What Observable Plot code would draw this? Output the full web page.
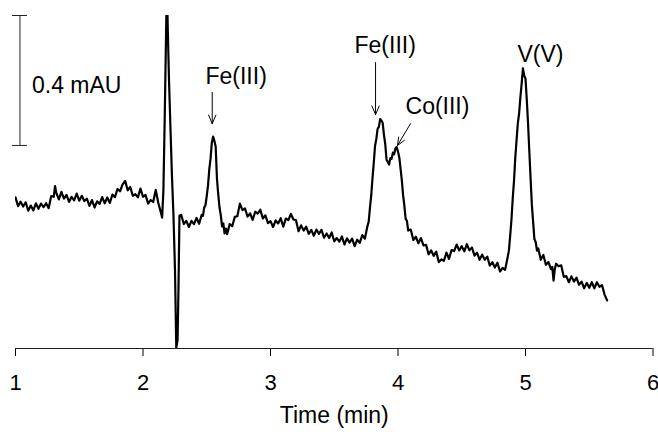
<!DOCTYPE html>
<html>
<head>
<meta charset="utf-8">
<script src="https://cdn.jsdelivr.net/npm/d3@7"></script>
<script src="https://cdn.jsdelivr.net/npm/@observablehq/plot@0.6"></script>
<style>
  html, body { margin: 0; padding: 0; background: #fff; }
</style>
</head>
<body>
<div id="chart"></div>
<script>
// Retention time (min) of each sample of the electropherogram
const time = [
  1.00,1.02,1.04,1.06,1.08,1.10,1.12,1.14,1.16,1.18,1.20,1.22,1.24,1.26,1.28,1.30,1.31,1.32,1.34,1.36,
  1.38,1.40,1.42,1.44,1.46,1.48,1.50,1.52,1.54,1.56,1.58,1.60,1.62,1.64,1.66,1.68,1.70,1.72,1.74,1.76,
  1.78,1.80,1.82,1.84,1.86,1.88,1.90,1.92,1.94,1.96,1.98,2.00,2.02,2.04,2.06,2.08,2.10,2.12,2.14,2.15,
  2.160,2.170,2.180,2.187,2.194,2.204,2.216,2.227,2.239,2.251,2.261,2.271,2.278,2.286,
  2.30,2.32,2.34,2.36,2.38,2.40,2.42,2.44,2.46,2.47,2.48,2.49,2.50,2.51,2.52,2.53,2.54,2.55,2.56,2.57,
  2.58,2.59,2.60,2.61,2.62,2.63,2.64,2.65,2.66,2.68,2.70,2.72,2.74,2.76,2.78,2.80,2.82,2.84,2.86,2.88,
  2.90,2.92,2.94,2.96,2.98,3.00,3.02,3.04,3.06,3.08,3.10,3.12,3.14,3.16,3.18,3.20,3.22,3.24,3.26,3.28,
  3.30,3.32,3.34,3.36,3.38,3.40,3.42,3.44,3.46,3.48,3.50,3.52,3.54,3.56,3.58,3.60,3.62,3.64,3.66,3.68,
  3.70,3.72,3.74,3.76,3.77,3.78,3.79,3.80,3.81,3.82,3.83,3.84,3.85,3.86,3.87,3.88,3.89,3.90,3.91,3.92,
  3.93,3.94,3.95,3.96,3.97,3.98,3.99,4.00,4.01,4.02,4.03,4.04,4.05,4.06,4.07,4.08,4.10,4.12,4.14,4.16,
  4.18,4.20,4.22,4.24,4.26,4.28,4.30,4.32,4.34,4.36,4.38,4.40,4.42,4.44,4.46,4.48,4.50,4.52,4.54,4.56,
  4.58,4.60,4.62,4.64,4.66,4.68,4.70,4.72,4.74,4.76,4.78,4.80,4.82,4.84,4.86,4.87,4.88,4.89,4.90,4.91,
  4.92,4.93,4.94,4.95,4.96,4.97,4.98,4.99,5.00,5.01,5.02,5.03,5.04,5.05,5.06,5.07,5.08,5.09,5.10,5.12,
  5.14,5.16,5.18,5.20,5.21,5.22,5.23,5.24,5.26,5.28,5.30,5.32,5.34,5.36,5.38,5.40,5.42,5.44,5.46,5.48,
  5.50,5.52,5.54,5.56,5.58,5.60,5.62,5.64
];

// Absorbance (mAU, arbitrary offset)
const absorbance = [
  0.465,0.438,0.452,0.437,0.450,0.424,0.440,0.425,0.447,0.430,0.446,0.435,0.447,0.432,0.469,0.467,0.500,0.479,0.459,0.482,
  0.461,0.473,0.451,0.467,0.456,0.477,0.455,0.470,0.454,0.461,0.439,0.457,0.434,0.453,0.445,0.466,0.447,0.465,0.448,0.474,
  0.466,0.491,0.484,0.505,0.516,0.487,0.497,0.470,0.475,0.465,0.492,0.467,0.473,0.446,0.457,0.451,0.488,0.448,0.419,0.403,
  0.486,0.702,0.948,1.120,0.990,0.825,0.671,0.532,0.409,0.240,0.003,0.025,0.178,0.409,
  0.411,0.383,0.393,0.374,0.393,0.383,0.402,0.384,0.411,0.408,0.434,0.441,0.470,0.502,0.552,0.585,0.634,0.652,0.639,0.622,
  0.523,0.475,0.434,0.411,0.376,0.385,0.354,0.369,0.352,0.383,0.377,0.405,0.407,0.446,0.426,0.431,0.406,0.416,0.396,0.421,
  0.415,0.427,0.400,0.410,0.386,0.392,0.374,0.394,0.385,0.401,0.375,0.400,0.395,0.414,0.397,0.395,0.361,0.379,0.363,0.375,
  0.353,0.365,0.347,0.366,0.353,0.365,0.341,0.354,0.340,0.357,0.330,0.340,0.329,0.345,0.320,0.339,0.326,0.338,0.315,0.335,
  0.325,0.349,0.338,0.376,0.390,0.433,0.471,0.524,0.572,0.624,0.645,0.676,0.682,0.706,0.702,0.694,0.657,0.629,0.581,0.574,
  0.566,0.586,0.584,0.603,0.598,0.616,0.620,0.606,0.589,0.554,0.518,0.472,0.439,0.399,0.393,0.363,0.366,0.334,0.344,0.324,
  0.340,0.317,0.319,0.290,0.302,0.285,0.298,0.266,0.274,0.270,0.295,0.276,0.303,0.300,0.320,0.302,0.315,0.299,0.321,0.302,
  0.311,0.286,0.295,0.273,0.289,0.273,0.283,0.255,0.266,0.249,0.264,0.237,0.248,0.242,0.281,0.302,0.348,0.397,0.463,0.517,
  0.588,0.642,0.694,0.724,0.774,0.816,0.862,0.840,0.831,0.766,0.693,0.607,0.523,0.442,0.389,0.336,0.328,0.301,0.308,0.273,
  0.288,0.258,0.266,0.244,0.251,0.209,0.245,0.261,0.253,0.256,0.221,0.223,0.204,0.222,0.206,0.218,0.196,0.206,0.185,0.202,
  0.187,0.204,0.185,0.204,0.190,0.195,0.166,0.148
];

// Axis ticks
const xTicks = [1, 2, 3, 4, 5, 6];

// Peak annotations (text position)
const peakNames = ["Fe(III)", "Fe(III)", "Co(III)", "V(V)"];
const peakLabelTime = [2.49, 3.659, 4.059, 4.937];
const peakLabelSignal = [0.838, 0.932, 0.745, 0.904];

// Arrows pointing to the peaks
const arrowTime1 = [2.543, 3.824, 4.098];
const arrowSignal1 = [0.788, 0.880, 0.692];
const arrowTime2 = [2.543, 3.824, 3.996];
const arrowSignal2 = [0.692, 0.720, 0.625];

// Scale bar
const scaleBarText = "0.4 mAU";
const scaleBarTime = 1.035;
const scaleBarFrom = 0.625;
const scaleBarTo = 1.025;

const trace = time.map((t, i) => ({t, v: absorbance[i]}));
const labels = peakNames.map((name, i) => ({name, t: peakLabelTime[i], v: peakLabelSignal[i]}));
const arrows = arrowTime1.map((t, i) => ({t1: t, v1: arrowSignal1[i], t2: arrowTime2[i], v2: arrowSignal2[i]}));

const chart = Plot.plot({
  width: 658,
  height: 432,
  marginLeft: 15,
  marginRight: 5.5,
  marginTop: 15,
  marginBottom: 84,
  style: {
    fontFamily: "'Liberation Sans', Arial, Helvetica, sans-serif",
    fontSize: "22px",
    background: "#fff",
    color: "#000",
    overflow: "visible"
  },
  x: {domain: [1, 6], ticks: xTicks, tickFormat: d => String(d), tickSize: 8, tickPadding: 18, label: null},
  y: {domain: [0, 1.025], axis: null},
  marks: [
    Plot.ruleY([0], {stroke: "#222", strokeWidth: 1}),
    Plot.line(trace, {x: "t", y: "v", stroke: "#000", strokeWidth: 2.2, clip: true}),
    Plot.ruleX([scaleBarTime], {y1: scaleBarFrom, y2: scaleBarTo, stroke: "#222", strokeWidth: 1}),
    Plot.ruleY([scaleBarFrom, scaleBarTo], {x1: scaleBarTime, x2: scaleBarTime, insetLeft: -7.5, insetRight: -7.5, stroke: "#222", strokeWidth: 1}),
    Plot.text([scaleBarText], {x: scaleBarTime, y: (scaleBarFrom + scaleBarTo) / 2, dx: 12, dy: 5, textAnchor: "start", fontSize: 23, fill: "#000"}),
    Plot.text(labels, {x: "t", y: "v", text: "name", textAnchor: "start", fontSize: 23, fill: "#000"}),
    Plot.arrow(arrows, {x1: "t1", y1: "v1", x2: "t2", y2: "v2", stroke: "#000", strokeWidth: 1, headLength: 14, headAngle: 46}),
    Plot.text(["Time (min)"], {frameAnchor: "bottom", dy: 74, fontSize: 23, fill: "#000"})
  ]
});

document.getElementById("chart").appendChild(chart);
</script>
</body>
</html>
